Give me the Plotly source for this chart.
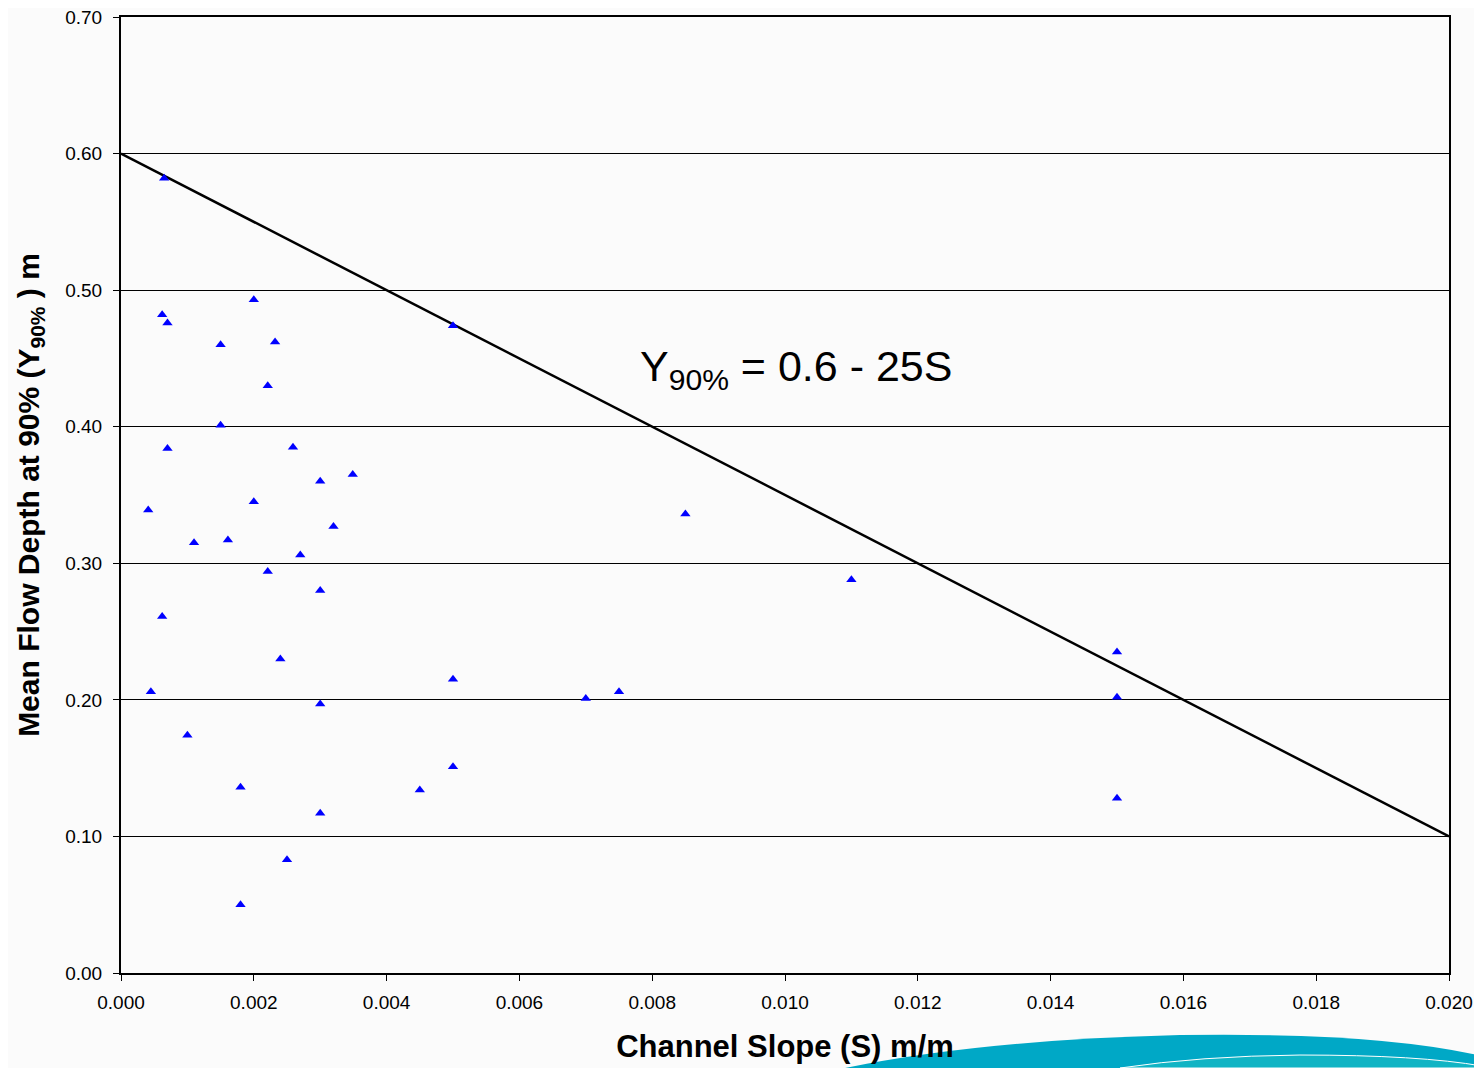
import plotly.graph_objects as go

# Data
slope = [0.00065, 0.00062, 0.0007, 0.0020, 0.0015, 0.00232, 0.00221, 0.0015, 0.0007, 0.00259,
         0.00041, 0.0020, 0.0030, 0.00349, 0.0032, 0.0011, 0.00161, 0.0027, 0.00221, 0.0030,
         0.00062, 0.0024, 0.00045, 0.0030, 0.0010, 0.0018, 0.0030, 0.0025, 0.0018, 0.0050,
         0.0050, 0.0050, 0.0045, 0.0070, 0.0075, 0.0085, 0.0110, 0.0150, 0.0150, 0.0150]
depth = [0.582, 0.482, 0.476, 0.493, 0.460, 0.462, 0.430, 0.401, 0.384, 0.385,
         0.339, 0.345, 0.360, 0.365, 0.327, 0.315, 0.317, 0.306, 0.294, 0.280,
         0.261, 0.230, 0.206, 0.197, 0.174, 0.136, 0.117, 0.083, 0.050, 0.474,
         0.215, 0.151, 0.134, 0.201, 0.206, 0.336, 0.288, 0.235, 0.202, 0.128]

line_x = [0.0, 0.020]
line_y = [0.60, 0.10]

x_ticks = [0.000, 0.002, 0.004, 0.006, 0.008, 0.010, 0.012, 0.014, 0.016, 0.018, 0.020]
x_labels = ["0.000", "0.002", "0.004", "0.006", "0.008", "0.010", "0.012", "0.014", "0.016", "0.018", "0.020"]
y_ticks = [0.0, 0.1, 0.2, 0.3, 0.4, 0.5, 0.6, 0.7]
y_labels = ["0.00", "0.10", "0.20", "0.30", "0.40", "0.50", "0.60", "0.70"]

# page body has an 8px margin; figure is sized to compensate
OFF = 8
W, H = 1474, 1060
L, R, T, B = 113, 33, 9, 95
pw, ph = W - L - R, H - T - B

def px(x, y):
    # convert window pixel coords to paper coords
    x -= OFF
    y -= OFF
    return (x - L) / pw, (H - B - y) / ph

def path(points_cmds):
    out = []
    for cmd, pts in points_cmds:
        coords = []
        for (x, y) in pts:
            a, b = px(x, y)
            coords.append(f"{a:.4f},{b:.4f}")
        out.append(cmd + " " + " ".join(coords))
    return " ".join(out) + " Z"

fig = go.Figure()
fig.add_trace(go.Scatter(x=line_x, y=line_y, mode="lines",
                         line=dict(color="black", width=2.5), showlegend=False, hoverinfo="skip"))
fig.add_trace(go.Scatter(x=slope, y=depth, mode="markers",
                         marker=dict(symbol="triangle-up", size=9, color="#0000ff", line=dict(width=0)),
                         showlegend=False))

font = "Liberation Sans, Arial, sans-serif"

swoosh1 = path([("M", [(845, 1068)]), ("Q", [(980, 1040), (1180, 1035)]),
                ("Q", [(1380, 1032), (1482, 1056)]), ("L", [(1482, 1068)])])
swoosh2 = path([("M", [(1120, 1068)]), ("Q", [(1200, 1056), (1300, 1055)]),
                ("Q", [(1420, 1055), (1482, 1066)]), ("L", [(1482, 1068)])])

fig.update_layout(
    width=W, height=H,
    margin=dict(l=L, r=R, t=T, b=B),
    paper_bgcolor="#fbfbfb", plot_bgcolor="#fbfbfb",
    font=dict(family=font, color="black"),
    xaxis=dict(range=[0, 0.020], tickvals=x_ticks, ticktext=x_labels, automargin=False,
               showgrid=False, zeroline=False, showline=True, mirror=True,
               linecolor="black", linewidth=2, ticks="outside", ticklen=6, tickwidth=1,
               tickcolor="black", tickfont=dict(size=19), ticklabelstandoff=5,
               ticklabeloverflow="allow",
               title=dict(text="<b>Channel Slope (S) m/m</b>", font=dict(size=31), standoff=24)),
    yaxis=dict(range=[0, 0.70], tickvals=y_ticks, ticktext=y_labels, automargin=False,
               showgrid=True, gridcolor="black", gridwidth=1, zeroline=False, showline=True,
               mirror=True, linecolor="black", linewidth=2, ticks="outside", ticklen=6,
               tickwidth=1, tickcolor="black", tickfont=dict(size=19), ticklabelstandoff=7,
               ticklabeloverflow="allow",
               title=dict(text="<b>Mean Flow Depth at 90% (Y<sub>90%</sub> ) m</b>",
                          font=dict(size=30), standoff=17)),
    annotations=[dict(x=0.01017, y=0.442, xref="x", yref="y",
                      text="Y<sub>90%</sub> = 0.6 - 25S", showarrow=False,
                      font=dict(size=43, color="black"), xanchor="center", yanchor="middle")],
    shapes=[dict(type="path", xref="paper", yref="paper", path=swoosh1,
                 fillcolor="#00a8c6", line=dict(width=0), layer="below"),
            dict(type="path", xref="paper", yref="paper", path=swoosh2,
                 fillcolor="#10b4c4", line=dict(color="white", width=1), layer="below")],
)

fig.write_html("out.html")
